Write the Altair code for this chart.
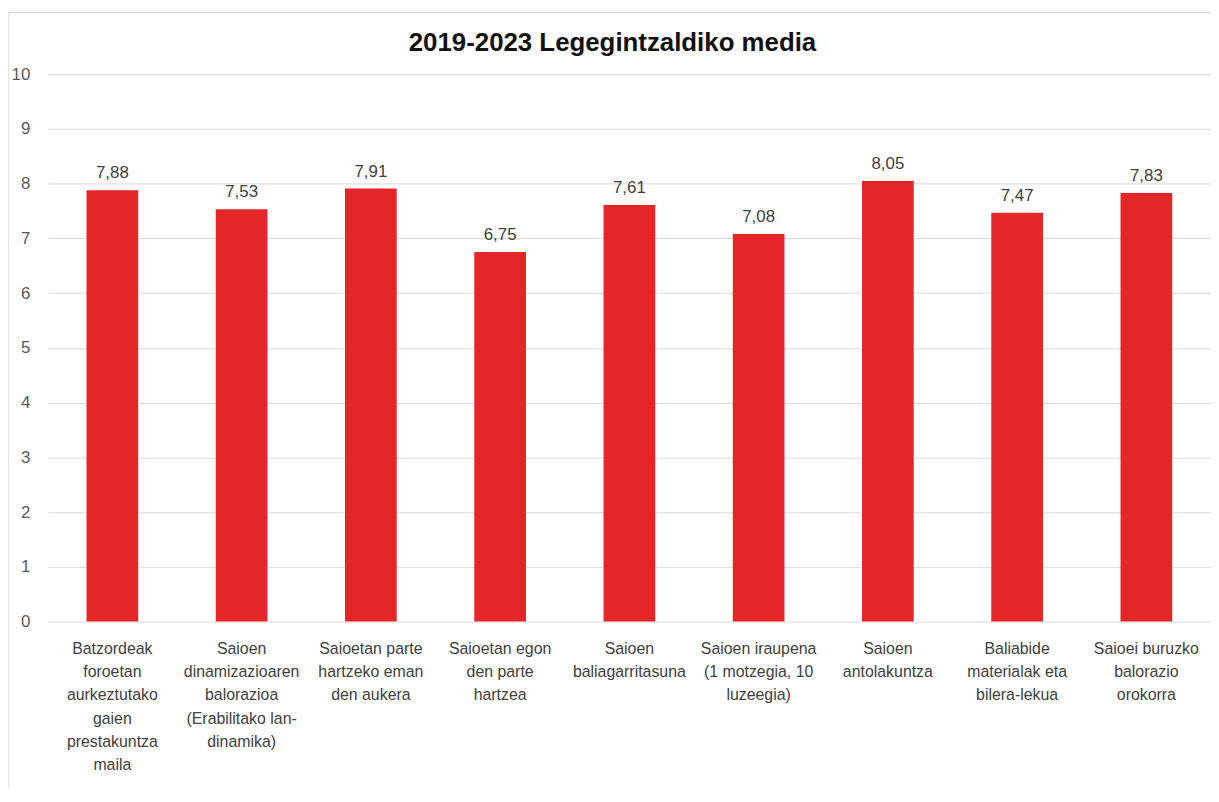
import altair as alt
import pandas as pd

categories = [
    "Batzordeak|foroetan|aurkeztutako|gaien|prestakuntza|maila",
    "Saioen|dinamizazioaren|balorazioa|(Erabilitako lan-|dinamika)",
    "Saioetan parte|hartzeko eman|den aukera",
    "Saioetan egon|den parte|hartzea",
    "Saioen|baliagarritasuna",
    "Saioen iraupena|(1 motzegia, 10|luzeegia)",
    "Saioen|antolakuntza",
    "Baliabide|materialak eta|bilera-lekua",
    "Saioei buruzko|balorazio|orokorra",
]
values = [7.88, 7.53, 7.91, 6.75, 7.61, 7.08, 8.05, 7.47, 7.83]
y_ticks = list(range(0, 11))

df = pd.DataFrame({"cat": categories, "val": values})

FONT = "Liberation Sans"

base = alt.Chart(df).encode(
    x=alt.X(
        "cat:N",
        sort=categories,
        scale=alt.Scale(paddingInner=0.6, paddingOuter=0.3),
        axis=alt.Axis(
            title=None,
            labelAngle=0,
            labelExpr="split(datum.label, '|')",
            labelFontSize=16,
            labelFont=FONT,
            labelColor="#404040",
            labelLineHeight=23.4,
            labelBaseline="alphabetic",
            labelPadding=32,
            labelLimit=300,
            ticks=False,
            tickSize=0,
            domain=False,
            grid=False,
        ),
    ),
    y=alt.Y(
        "val:Q",
        scale=alt.Scale(domain=[0, 10], nice=False),
        axis=alt.Axis(
            title=None,
            values=y_ticks,
            grid=True,
            gridColor="#d9d9d9",
            gridWidth=1,
            domain=False,
            ticks=False,
            tickSize=0,
            labelPadding=18,
            labelFontSize=17,
            labelFont=FONT,
            labelColor="#595959",
        ),
    ),
)

bars = base.mark_bar(color="#E52629")

labels = base.transform_calculate(
    lbl="replace(format(datum.val, '.2f'), '.', ',')"
).mark_text(
    dy=-12, baseline="alphabetic", fontSize=17, font=FONT, color="#404040"
).encode(text="lbl:N")

border = alt.Chart(pd.DataFrame({"k": [0]})).mark_rect(
    fill=None, stroke="#d9d9d9", strokeWidth=1.5
).encode(
    x=alt.value(-40), x2=alt.value(1300), y=alt.value(-62), y2=alt.value(900)
)

chart = alt.layer(border, bars, labels).properties(
    width=1171,
    height=551,
    autosize=alt.AutoSizeParams(type="none"),
    padding={"left": 40, "top": 64, "right": 0, "bottom": 165},
    title=alt.TitleParams(
        "2019-2023 Legegintzaldiko media",
        font=FONT,
        fontSize=26,
        fontWeight="bold",
        color="#111111",
        anchor="middle",
        dx=-17,
        offset=-65,
        baseline="alphabetic",
    ),
).configure_view(stroke=None)

chart.save("out.html", embed_options={"renderer": "svg", "actions": False})
